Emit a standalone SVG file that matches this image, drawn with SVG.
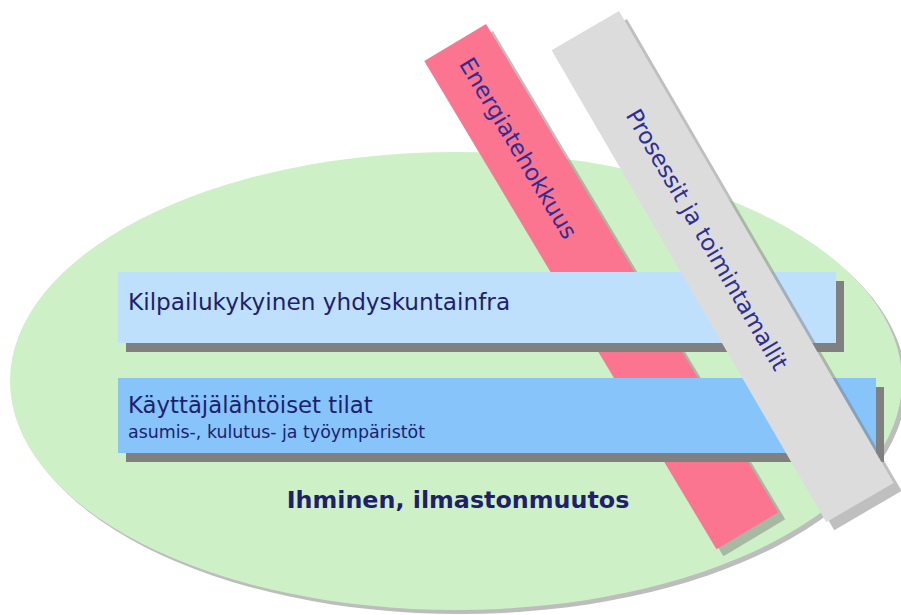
<svg xmlns="http://www.w3.org/2000/svg" width="901" height="615" viewBox="0 0 901 615">
<style>
.t{font-family:"DejaVu Sans","Verdana",sans-serif;fill:#1F1F6E;}
.rt{font-family:"DejaVu Sans","Verdana",sans-serif;fill:#2E2E96;font-size:23px;}
.sh{fill:#808080;opacity:0.5;}
.bsh{fill:#808080;}
</style>
<rect width="901" height="615" fill="#FFFFFF"/>
<g id="ellipse">
<ellipse cx="460" cy="385" rx="446" ry="229" fill="#BDBDBD"/>
<ellipse cx="456" cy="381" rx="446" ry="229" fill="#CEF0C7"/>
</g>
<g id="energiatehokkuus">
<rect class="sh" transform="translate(493,31) rotate(59.1)" x="0" y="0" width="569" height="72"/>
<g transform="translate(486,24) rotate(59.1)">
<rect x="0" y="0" width="569" height="72" fill="#FC7590"/>
<text class="rt" x="20" y="44">Energiatehokkuus</text>
</g>
</g>
<g id="kilpailukykyinen">
<rect class="bsh" x="126" y="281" width="718" height="71"/>
<rect x="118" y="272" width="718" height="71" fill="#BEE0FC"/>
<text class="t" x="128" y="310" font-size="23.2">Kilpailukykyinen yhdyskuntainfra</text>
</g>
<g id="kayttajalahtoiset">
<rect class="bsh" x="126" y="387" width="758" height="75"/>
<rect x="118" y="378" width="758" height="75" fill="#86C4FA"/>
<text class="t" x="128" y="413" font-size="22.8">Käyttäjälähtöiset tilat</text>
<text class="t" x="128" y="438" font-size="17.4">asumis-, kulutus- ja työympäristöt</text>
</g>
<g id="prosessit">
<rect class="sh" transform="translate(627,19) rotate(59.8)" x="0" y="0" width="546" height="78"/>
<g transform="translate(619,11) rotate(59.8)">
<rect x="0" y="0" width="546" height="78" fill="#DCDCDC"/>
<text class="rt" x="93" y="47">Prosessit ja toimintamallit</text>
</g>
</g>
<g id="ihminen">
<text class="t" x="458" y="508" font-size="23.8" font-weight="bold" text-anchor="middle" fill="#12126A">Ihminen, ilmastonmuutos</text>
</g>
<g id="connectors"></g>
</svg>
